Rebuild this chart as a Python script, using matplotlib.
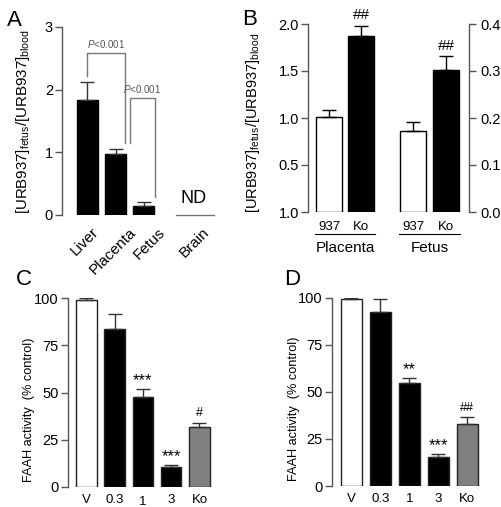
import matplotlib
matplotlib.use("Agg")
import matplotlib.pyplot as plt
import matplotlib.transforms as mtransforms

plt.rcParams["font.family"] = ["Liberation Sans", "DejaVu Sans"]
plt.rcParams["mathtext.fontset"] = "custom"
plt.rcParams["mathtext.rm"] = "Liberation Sans"
plt.rcParams["mathtext.it"] = "Liberation Sans:italic"

# ---- data ----
# panel A: tissue / blood ratio
a_labels = ["Liver", "Placenta", "Fetus", "Brain"]
a_values = [1.83, 0.98, 0.15]
a_errors = [0.30, 0.07, 0.05]

# panel B: URB937 vs FAAH knockout
b_ticklabels = ["937", "Ko"]
b_groups = ["Placenta", "Fetus"]
b_placenta = [1.01, 1.87]
b_placenta_err = [0.07, 0.11]
b_fetus = [0.172, 0.302]
b_fetus_err = [0.019, 0.029]

# panels C, D: FAAH activity
cd_labels = ["V", "0.3", "1", "3", "Ko"]
c_values = [99.3, 83.9, 47.8, 10.3, 31.6]
c_errors = [0.8, 7.8, 3.8, 1.3, 2.4]
c_marks = ["", "", "***", "***", "#"]
d_values = [99.2, 92.2, 54.5, 15.6, 32.9]
d_errors = [0.8, 7.1, 2.6, 1.3, 3.6]
d_marks = ["", "", "**", "***", "##"]

W, H = 502, 507
fig = plt.figure(figsize=(W / 100, H / 100), dpi=100)

SPINE = "#555555"
TICK_FS = 10.5


def add_ax(left, right, top, bottom):
    return fig.add_axes([left / W, 1 - bottom / H, (right - left) / W, (bottom - top) / H])


def style(ax, side="left"):
    for s in ["top", "right", "bottom", "left"]:
        ax.spines[s].set_visible(False)
    ax.spines[side].set_visible(True)
    ax.spines[side].set_color(SPINE)
    ax.spines[side].set_linewidth(1.0)
    ax.tick_params(axis="y", direction="out", length=5, width=1.0, color=SPINE,
                   labelsize=TICK_FS, pad=1.5)
    ax.tick_params(axis="x", length=0)
    ax.patch.set_visible(False)


def shift(label, dx, dy):
    label.set_transform(label.get_transform()
                        + mtransforms.ScaledTranslation(dx / 100, -dy / 100, fig.dpi_scale_trans))


# ---------------- Panel A ----------------
axA = add_ax(62, 215, 27, 215)
style(axA)
ax_pos = [0, 1, 2, 3.8]
axA.bar(ax_pos[:3], a_values, width=0.75, color="black", edgecolor="black")
axA.errorbar(ax_pos[:3], a_values, yerr=[[0] * 3, a_errors], fmt="none",
             ecolor="#333333", elinewidth=1, capsize=5, capthick=1)
axA.set_xlim(-0.91, 4.55)
axA.set_ylim(0, 3)
axA.set_yticks([0, 1, 2, 3])
axA.set_xticks(ax_pos)
axA.set_xticklabels(a_labels, rotation=45, ha="right", va="center",
                    rotation_mode="anchor", fontsize=11)
for lab, dx in zip(axA.get_xticklabels(), [9, 18, 19, 13]):
    shift(lab, dx, 10)
axA.set_ylabel(r"[URB937]$_{\mathrm{fetus}}$/[URB937]$_{\mathrm{blood}}$", fontsize=10.8)
axA.yaxis.set_label_coords(-0.196, 0.497)
# ND for brain
axA.plot([3.15, 4.5], [0, 0], color="#777777", lw=1, clip_on=False)
axA.text(3.8, 0.12, "ND", ha="center", va="bottom", fontsize=13)
# significance brackets
gc = "#777777"
axA.plot([0, 0, 1.35, 1.35], [2.22, 2.58, 2.58, 1.15], color=gc, lw=1)
axA.text(0.67, 2.63, r"$\mathit{P}$<0.001", ha="center", va="bottom", fontsize=7, color="#555555")
axA.plot([1.5, 1.5, 2.4, 2.4], [1.15, 1.86, 1.86, 0.28], color=gc, lw=1)
axA.text(1.95, 1.91, r"$\mathit{P}$<0.001", ha="center", va="bottom", fontsize=7, color="#555555")
fig.text(7 / W, 1 - 26 / H, "A", fontsize=16)

# ---------------- Panel B ----------------
axB = add_ax(308, 469, 24, 212)
style(axB)
pl_pos = [0, 1]
fe_pos = [2.625, 3.66]
axB.bar(pl_pos, b_placenta, width=0.81, color=["white", "black"], edgecolor="black", lw=1)
axB.errorbar(pl_pos, b_placenta, yerr=[[0, 0], b_placenta_err], fmt="none",
             ecolor="black", elinewidth=1, capsize=5, capthick=1)
axB.set_xlim(-0.656, 4.375)
axB.set_ylim(0, 2.0)
axB.set_yticks([0, 0.5, 1.0, 1.5, 2.0])
axB.set_yticklabels(["1.0", "0.5", "1.0", "1.5", "2.0"])
axB.set_xticks([])
axB.set_ylabel(r"[URB937]$_{\mathrm{fetus}}$/[URB937]$_{\mathrm{blood}}$", fontsize=10.5)
axB.yaxis.set_label_coords(-0.285, 0.473)
axB.text(1, b_placenta[1] + b_placenta_err[1] + 0.04, "##", ha="center", va="bottom", fontsize=11)

axB2 = axB.twinx()
axB2.set_position(axB.get_position())
style(axB2, side="right")
axB2.tick_params(axis="y", labelsize=TICK_FS, right=True, labelright=True,
                 left=False, labelleft=False, pad=3)
axB2.bar(fe_pos, b_fetus, width=0.81, color=["white", "black"], edgecolor="black", lw=1)
axB2.errorbar(fe_pos, b_fetus, yerr=[[0, 0], b_fetus_err], fmt="none",
              ecolor="black", elinewidth=1, capsize=5, capthick=1)
axB2.set_ylim(0, 0.4)
axB2.set_yticks([0, 0.1, 0.2, 0.3, 0.4])
axB2.set_yticklabels(["0.0", "0.1", "0.2", "0.3", "0.4"])
axB2.text(fe_pos[1], b_fetus[1] + b_fetus_err[1] + 0.008, "##", ha="center", va="bottom", fontsize=11)

tr = mtransforms.blended_transform_factory(axB.transData, axB.transAxes)
for grp, pos in zip(b_groups, [pl_pos, fe_pos]):
    for p, lab in zip(pos, b_ticklabels):
        axB.text(p, -0.096, lab, transform=tr, ha="center", va="baseline", fontsize=9.5)
    axB.plot([pos[0] - 0.43, pos[1] + 0.43], [-0.115, -0.115], color="black", lw=0.8,
             transform=tr, clip_on=False)
    axB.text((pos[0] + pos[1]) / 2, -0.215, grp, transform=tr, ha="center", va="baseline", fontsize=11)
fig.text(242 / W, 1 - 25 / H, "B", fontsize=16)


# ---------------- Panels C and D ----------------
def faah(ax, values, errors, marks, xlim, label_x):
    style(ax)
    pos = list(range(len(values)))
    colors = ["white", "black", "black", "black", "#808080"]
    ax.bar(pos, values, width=0.72, color=colors, edgecolor="#222222", lw=1)
    ax.errorbar(pos, values, yerr=[[0] * len(values), errors], fmt="none",
                ecolor="#333333", elinewidth=1, capsize=5, capthick=1)
    ax.set_xlim(*xlim)
    ax.set_ylim(0, 100)
    ax.set_yticks([0, 25, 50, 75, 100])
    ax.set_xticks(pos)
    ax.set_xticklabels(cd_labels, fontsize=9.5)
    ax.tick_params(axis="x", pad=5)
    ax.set_ylabel("FAAH activity  (% control)", fontsize=9.2)
    ax.yaxis.set_label_coords(label_x, 0.41)
    for p, v, e, m in zip(pos, values, errors, marks):
        if m:
            star = "*" in m
            ax.text(p, v + e + (0.5 if star else 2), m, ha="center", va="bottom",
                    fontsize=12 if star else 9)


axC = add_ax(68, 215, 298.3, 486.7)
faah(axC, c_values, c_errors, c_marks, (-0.65, 4.55), -0.224)
shift(axC.get_xticklabels()[2], 0, 2)
fig.text(16 / W, 1 - 285 / H, "C", fontsize=16)

axD = add_ax(331.7, 480, 297.7, 486)
faah(axD, d_values, d_errors, d_marks, (-0.68, 4.44), -0.214)
fig.text(284 / W, 1 - 285 / H, "D", fontsize=16)

fig.savefig("out.png", dpi=100)
